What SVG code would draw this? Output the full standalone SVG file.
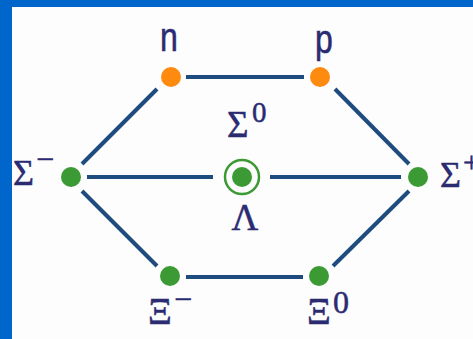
<svg xmlns="http://www.w3.org/2000/svg" width="473" height="339" viewBox="0 0 473 339">
<style>
.edge{stroke:#1f4c7e;stroke-width:4;stroke-linecap:butt}
.lab{font-family:"Liberation Serif","Times New Roman",serif;fill:#2b2b72;stroke:#2b2b72;stroke-width:0.5}
.sans{font-family:"Liberation Sans",Arial,sans-serif;fill:#2b2b72;stroke:#2b2b72;stroke-width:0.6}
.g{fill:#3c9a34}
.o{fill:#ff8a10}
</style>
<rect x="0" y="0" width="473" height="339" fill="#0066cc"/>
<rect x="12" y="7" width="461" height="332" fill="#fdfdfd"/>
<g id="connectors">
<line class="edge" x1="186" y1="77" x2="304" y2="77"/>
<line class="edge" x1="186" y1="277" x2="303" y2="277"/>
<line class="edge" x1="82" y1="164" x2="157" y2="89"/>
<line class="edge" x1="82" y1="191" x2="157" y2="266"/>
<line class="edge" x1="87" y1="177" x2="213" y2="177"/>
<line class="edge" x1="270" y1="177" x2="401" y2="177"/>
<line class="edge" x1="335" y1="89" x2="409" y2="164"/>
<line class="edge" x1="333" y1="266" x2="409" y2="191"/>
</g>
<g id="n">
<circle class="o" cx="171" cy="77" r="10"/>
<text class="sans" x="169" y="51" font-size="40" text-anchor="middle" transform="translate(169 0) scale(0.8 1) translate(-169 0)">n</text>
</g>
<g id="p">
<circle class="o" cx="320" cy="77" r="10"/>
<text class="sans" x="324" y="53" font-size="40" text-anchor="middle" transform="translate(324 0) scale(0.8 1) translate(-324 0)">p</text>
</g>
<g id="sigma-minus">
<circle class="g" cx="71" cy="177" r="10"/>
<text class="lab" x="13" y="185" font-size="36">Σ</text>
<text class="lab" x="36" y="170" font-size="32">−</text>
</g>
<g id="sigma0-lambda">
<circle cx="242" cy="177" r="17" fill="none" stroke="#3c9a34" stroke-width="2.5"/>
<circle class="g" cx="242" cy="177" r="10"/>
<text class="lab" x="227" y="137" font-size="37">Σ</text>
<text class="lab" x="252" y="122" font-size="29">0</text>
<text class="lab" x="245" y="230" font-size="37" text-anchor="middle">Λ</text>
</g>
<g id="sigma-plus">
<circle class="g" cx="418" cy="177" r="10"/>
<text class="lab" x="440" y="187" font-size="36">Σ</text>
<text class="lab" x="463" y="172" font-size="30">+</text>
</g>
<g id="xi-minus">
<circle class="g" cx="170" cy="276" r="10"/>
<text class="lab" x="148" y="324" font-size="37">Ξ</text>
<text class="lab" x="174" y="310" font-size="32">−</text>
</g>
<g id="xi0">
<circle class="g" cx="319" cy="276" r="10"/>
<text class="lab" x="307" y="324" font-size="37">Ξ</text>
<text class="lab" x="333" y="313" font-size="32">0</text>
</g>
</svg>
